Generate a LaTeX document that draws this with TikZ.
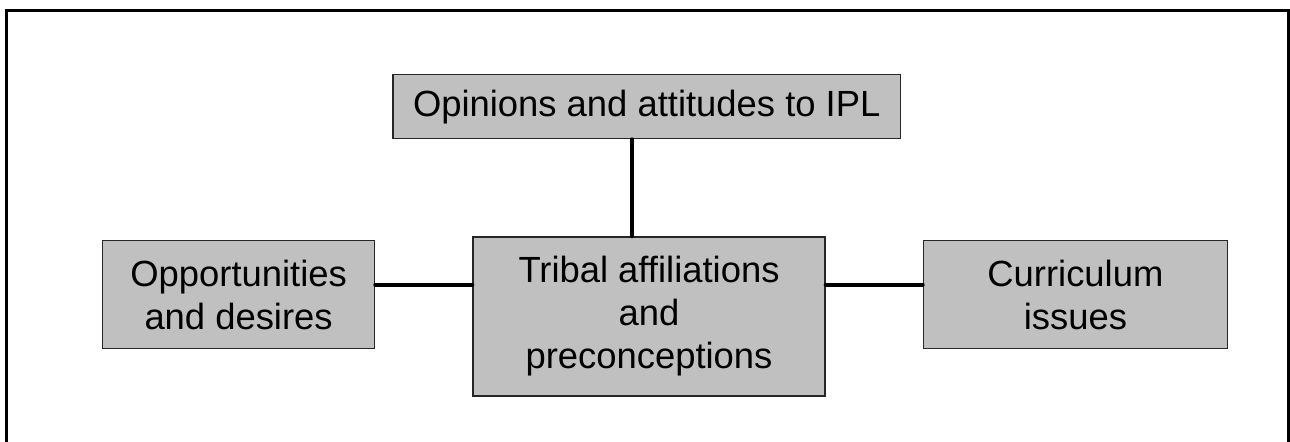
\documentclass[tikz,border=0pt]{standalone}
\usepackage{fontspec}
\setmainfont{Liberation Sans}
\usetikzlibrary{positioning}
\definecolor{boxgray}{RGB}{192,192,192}
\tikzstyle{box} = [rectangle, draw=black!85, line width=0.7pt, fill=boxgray, align=center, font=\fontsize{18.2pt}{21.5pt}\selectfont, inner sep=0pt]
\tikzstyle{link} = [line width=2pt, line cap=round]
\tikzstyle{frame} = [line width=1.5pt]

\begin{document}
\begin{tikzpicture}[x=0.5pt,y=-0.5pt]
\useasboundingbox (0,0) rectangle (1290,441);
\begin{scope}
  \clip (0,0) rectangle (1290,441);
  \draw[frame] (6,10) rectangle (1288,480);
\end{scope}

\node[box, minimum width=176pt, minimum height=79.5pt] (tribal) at (649,316.5) {Tribal affiliations\\and\\preconceptions};
\node[box, minimum width=136pt, minimum height=54pt, left=48.5pt of tribal.west, yshift=11pt] (opp) {Opportunities\\and desires};
\node[box, minimum width=152pt, minimum height=54pt, right=48.5pt of tribal.east, yshift=11pt] (curr) {Curriculum\\issues};
\node[box, minimum height=32pt, inner xsep=10pt, above=48.5pt of tribal.north west, anchor=south west, xshift=-40pt] (ipl) {Opinions and attitudes to IPL};

\coordinate (hl) at ([yshift=5pt]opp.east);
\coordinate (hr) at ([yshift=5pt]curr.west);
\coordinate (vt) at ([xshift=-8.5pt]tribal.north);
\draw[link] (hl) -- (hl -| tribal.west);
\draw[link] (tribal.east |- hr) -- (hr);
\draw[link] (vt) -- (vt |- ipl.south);
\end{tikzpicture}
\end{document}
